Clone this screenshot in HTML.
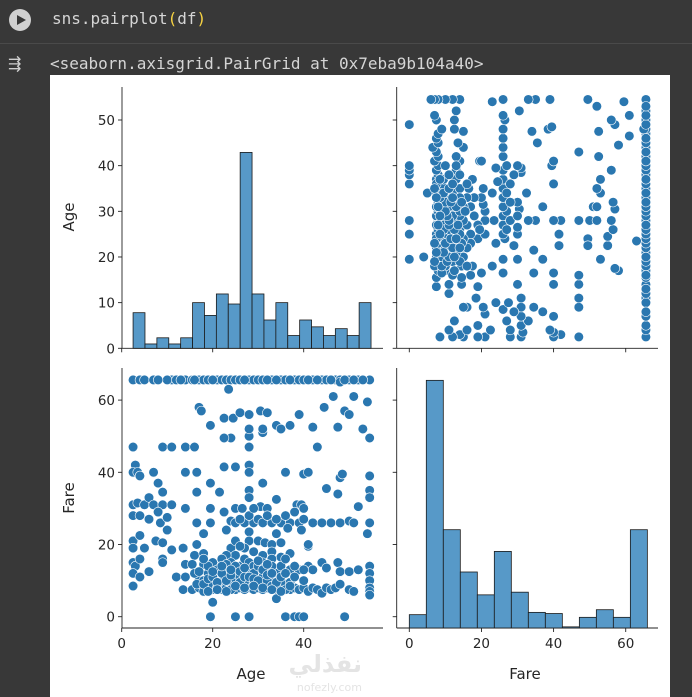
<!DOCTYPE html>
<html><head><meta charset="utf-8"><style>
html,body{margin:0;padding:0;background:#383838;width:692px;height:697px;overflow:hidden;font-family:"DejaVu Sans","Liberation Sans",sans-serif}
.code{position:absolute;font-family:"DejaVu Sans Mono","Liberation Mono",monospace;font-size:16px;color:#d5d5d5}
</style></head><body>
<div style="position:absolute;left:9px;top:9px;width:22px;height:22px;border-radius:50%;background:#d0d0d0"><div style="position:absolute;left:8px;top:6px;width:0;height:0;border-left:9px solid #383838;border-top:5px solid transparent;border-bottom:5px solid transparent"></div></div>
<div class="code" style="left:52px;top:9px">sns.pairplot<span style="color:#f5d142">(</span>df<span style="color:#f5d142">)</span></div>
<div style="position:absolute;left:0;top:43px;width:692px;height:1px;background:#4a4a4a"></div>
<div style="position:absolute;left:8px;top:56px;color:#cfcfcf;font-size:16px;line-height:16px">⇶</div>
<div class="code" style="left:50px;top:54px">&lt;seaborn.axisgrid.PairGrid at 0x7eba9b104a40&gt;</div>
<svg id="fig" width="692" height="697" style="position:absolute;left:0;top:0"></svg>
<script>
const ageBins=[7.8,0.95,2.3,0.95,2.3,10,7.2,11.9,9.7,42.9,11.9,6.2,10,2.8,6.2,4.7,2.8,4.3,2.8,10];
const ageBinStart=2.5, ageBinEnd=54.8;
const fareBins=[3.5,65,25.8,14.7,8.7,20.1,9.4,4.1,3.8,0.3,2.8,4.8,2.8,25.8];
const fareBinStart=0, fareBinEnd=66;
const ageTicks=[0,20,40];
const ageYTicks=[0,10,20,30,40,50];
const fareTicks=[0,20,40,60];
const points=[[2.5,65.6],[4,65.6],[11,65.6],[14,65.6],[15.5,65.6],[17,65.6],[18,65.6],[19,65.6],[21,65.6],[22,65.6],[23,65.6],[24,65.6],[25,65.6],[26,65.6],[28,65.6],[29,65.6],[30,65.6],[31,65.6],[33,65.6],[35,65.6],[36,65.6],[38,65.6],[39,65.6],[40,65.6],[42,65.6],[44,65.6],[45,65.6],[47,65.6],[48,65.6],[50,65.6],[52,65.6],[54.5,65.6],[23.5,63],[48,65],
[10,65.6],[12,65.6],[13,65.6],[16,65.6],[20,65.6],[27,65.6],[32,65.6],[34,65.6],[37,65.6],[41,65.6],[43,65.6],[46,65.6],[49,65.6],[51,65.6],[53,65.6],[5,65.6],[7,65.6],[8,65.6],
[46.5,61],[51,61],[54,59.5],[17,58],[17.5,57],[22.5,55],[24.5,55],[26,56.5],[28,56],[30.5,57],[32,56.5],[39,56],[49,57],[50,56],[44.5,58],[19.5,53],[24,49.5],[22.5,49.5],[31,51],[31,52],[34,53],[35,52],[37,53],[42,52.5],[47.5,52.5],[53,52],[54.5,49.5],[28,50],[28,52],[43,47],[9,47],[11,47],[14,47],[16,47],[2.5,47],[28,47],
[3,42],[2.5,40],[3.5,40],[4,39],[7,40],[14,40],[16.5,40],[16.5,34.5],[22.5,41.5],[25,41.5],[28,42],[28,40],[36,40],[40,39.5],[41,40],[31,37],[19.5,37],[8,37],[9,34.5],[21.5,34.5],[48,38.5],[48.5,39.5],[45,35.5],[47.5,34],[28,35],[28,33],[34,32.5],[54.5,39],[54.5,35],[54.5,33],
[2.5,31],[3.5,31.5],[5,31],[6,33],[7,31],[9,31],[11,31],[14,30],[19.5,30],[25,30],[26.5,30],[30.5,30.5],[32,30],[38.5,31],[39.5,31],[40,30],[52,30.5],[2.5,28],[4,28],[6,27],[8,29],[8.5,26],[10,27.5],[10,24],[16.5,26],[19.5,26],[22.5,29],[24,26.5],[25,26],[27,26],[29,26],[30,27],[31,26],[33,26],[35,26],[37,26],[39,26],[42,26],[44,26],[46,26],[48,26],[50,26.5],[51,26],[54.5,26],[39.5,24],[36.5,24.5],[34,23],[28,23.5],[2.5,21],[4,22.5],[7.5,21],[9,20.5],[16.5,20],[18,23],[24,19],[28,21],[30,21],[31.5,20.5],[33,20],[35,20.5],[41,19.5],[41,20],[54,23],[2.5,19],[5,19],[11,18.5],[13.5,19],[16,17],[18,17.5],[25,17],[37,17.5],
[26,27],[28,28],[29,30],[32,28],[34,27],[36,28],[38,29],[40,27],[23,24],[25,21],[27,19],[29,18],[31,17],[33,18],[35,16.5],[26,19.5],[21,14],[23,17],
[2.5,15],[3,14],[4,16],[2.5,12],[2.5,8.5],[4,11],[6,12.5],[9,16],[9,15],[12,11],[14,11],[14,14.5],[15.5,14.5],[13.5,7.5],[15.5,7.5],[17,10],[18,14.5],[19,12],[20,15],[21,11],[22,16],[23,13],[24,15],[25,12],[26,14],[27,16],[28,15],[28,13],[28,12],[29,14],[30,12],[31,15],[32,13],[33,16],[34,12],[35,14],[36,16],[37,13],[39,13],[41,14],[42,13],[44,15],[45,13.5],[47.5,15],[48,12.5],[50,12.5],[52,13],[54.5,14],[54.5,12],[54.5,10],[54.5,8],[54.5,7],[54.5,6],[17,8],[18,7],[19,8],[20,7.5],[20,9],[21,8],[22,7.5],[22,10],[23,8],[24,9],[25,7.5],[25,10.5],[26,8],[27,9],[28,8],[28,10],[29,7.5],[30,8],[31,9],[31,7.5],[32,8],[33,10],[34,7.5],[35,8],[36,9],[37,7.5],[38,8],[39,7.5],[40,8],[41,7],[42,8],[43,7.5],[44,6.5],[45,8],[46,7.5],[47,8],[48,9],[50,7.5],[51,7],[34,5],[20,4],[18,10],[29,12],[31,11],[26,11],[33,14],[16.5,9],[16,12],
[17,12.5],[18,9],[19,10.5],[19,14],[20,11],[21,9.5],[21,13],[22,12],[23,10],[23,14.5],[24,11.5],[24,7.5],[25,14],[26,9.5],[26,12.5],[27,7.5],[27,11],[27,13.5],[28,9],[28,11],[29,9],[29,10.5],[30,10],[30,14],[31,13],[32,10],[32,11.5],[33,8.5],[33,12],[34,9.5],[35,11],[36,12],[36,7.5],[37,9.5],[38,11],[38,14],[40,10],[40,13],[19,7],[21,7.5],[23,7],[25,8.5],[27,8],[29,8.5],[31,8],[33,7.5],[35,7],[37,8.5],[18,16],[20,12.5],[22,14],[24,13],[30,15.5],[32,14.5],
[19.5,0],[25,0],[28,0],[36,0],[38,0],[39,0],[40,0],[49,0]];

const NS="http://www.w3.org/2000/svg";
const svg=document.getElementById('fig');
function mk(tag,attrs,parent){const e=document.createElementNS(NS,tag);for(const k in attrs)e.setAttribute(k,attrs[k]);(parent||svg).appendChild(e);return e;}
const ageX=v=>121.7+v*4.55;
const ageY=v=>348.3-v*4.566;
const fareX=v=>409.3+v*3.607;
const fareY=v=>616.7-v*3.61;
const cntTop=v=>348.3-v*4.566;
const cntBot=v=>628-v*3.81;

const bg=mk('rect',{x:50,y:75,width:620,height:622,fill:'#ffffff'});



function txt(s,x,y,anchor,extra){const t=mk('text',Object.assign({x:x,y:y,'text-anchor':anchor,'font-size':13.5,fill:'#262626','font-family':'"DejaVu Sans","Liberation Sans",sans-serif'},extra||{}));t.textContent=s;return t;}

function axes(name,x0,x1,y0,y1){
  const g=mk('g',{});
  
  
  mk('line',{x1:x0,y1:y0,x2:x0,y2:y1,stroke:'#222',"stroke-width":0.9},g);
  mk('line',{x1:x0,y1:y1,x2:x1,y2:y1,stroke:'#222',"stroke-width":0.9},g);
  return g;
}
function xtick(g,x,y,label){mk('line',{x1:x,y1:y,x2:x,y2:y+4,stroke:'#222','stroke-width':0.9},g);if(label!==null){const t=txt(label,x,y+20,'middle');g.appendChild(t);}}
function ytick(g,x,y,label){mk('line',{x1:x,y1:y,x2:x-4,y2:y,stroke:'#222','stroke-width':0.9},g);if(label!==null){const t=txt(label,x-7,y+5,'end');g.appendChild(t);}}

const gTL=axes('age-histogram-panel',122,383,87,348.3);
const wA=(ageBinEnd-ageBinStart)/ageBins.length;
ageBins.forEach((c,i)=>{const x0=ageX(ageBinStart+i*wA),x1=ageX(ageBinStart+(i+1)*wA);const r=mk('rect',{x:x0,y:cntTop(c),width:x1-x0,height:cntTop(0)-cntTop(c),fill:'#5799c8',stroke:'#1a1a1a','stroke-width':0.8},gTL);

});
ageTicks.forEach(v=>xtick(gTL,ageX(v),348.3,null));
ageYTicks.forEach(v=>ytick(gTL,122,ageY(v),String(v)));

const gTR=axes('fare-vs-age-scatter-panel',396.7,658,87,348.3);
points.forEach(p=>{const c=mk('circle',{cx:fareX(p[1]),cy:ageY(p[0]),r:4.8,fill:'#2a77b0',stroke:'#ffffff','stroke-width':0.6},gTR);

});
fareTicks.forEach(v=>xtick(gTR,fareX(v),348.3,null));
ageYTicks.forEach(v=>ytick(gTR,396.7,ageY(v),null));

const gBL=axes('age-vs-fare-scatter-panel',122,383,368,628);
points.forEach(p=>{const c=mk('circle',{cx:ageX(p[0]),cy:fareY(p[1]),r:4.8,fill:'#2a77b0',stroke:'#ffffff','stroke-width':0.6},gBL);

});
ageTicks.forEach(v=>xtick(gBL,ageX(v),628,String(v)));
fareTicks.forEach(v=>ytick(gBL,122,fareY(v),String(v)));

const gBR=axes('fare-histogram-panel',396.7,658,368,628);
const wF=(fareBinEnd-fareBinStart)/fareBins.length;
fareBins.forEach((c,i)=>{const x0=fareX(fareBinStart+i*wF),x1=fareX(fareBinStart+(i+1)*wF);const r=mk('rect',{x:x0,y:cntBot(c),width:x1-x0,height:cntBot(0)-cntBot(c),fill:'#5799c8',stroke:'#1a1a1a','stroke-width':0.8},gBR);

});
fareTicks.forEach(v=>xtick(gBR,fareX(v),628,String(v)));
fareTicks.forEach(v=>ytick(gBR,396.7,fareY(v),null));

let t;
t=txt('Age',74,217,'middle',{'font-size':15,transform:'rotate(-90 74 217)'});


t=txt('Fare',74,498,'middle',{'font-size':15,transform:'rotate(-90 74 498)'});


t=txt('Age',251,679,'middle',{'font-size':15});


t=txt('Fare',525,679,'middle',{'font-size':15});


t=txt('نفذلي',362,672,'end',{'font-size':24,fill:'#e4e4e4','font-family':'"DejaVu Sans",sans-serif','font-weight':'bold'});


t=txt('nofezly.com',362,691,'end',{'font-size':11,fill:'#e4e4e4'});


</script>
</body></html>
